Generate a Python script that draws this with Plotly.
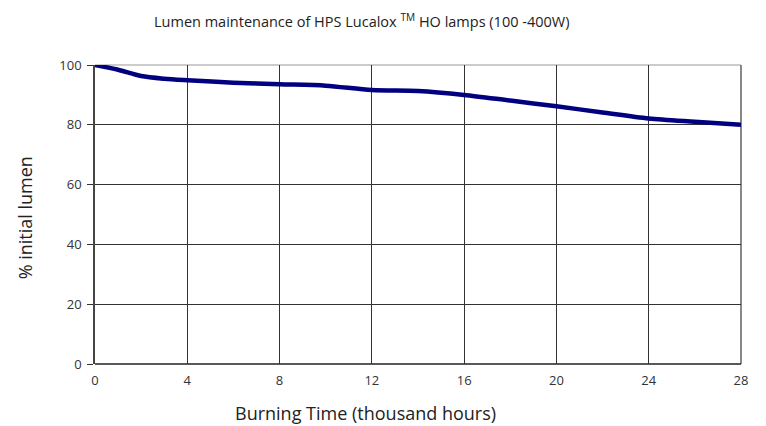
import plotly.graph_objects as go

hours = [0, 1, 2, 3, 4, 6, 8, 10, 12, 14, 16, 18, 20, 22, 24, 26, 28]
lumen = [100, 98.4, 96.3, 95.4, 94.9, 94.1, 93.6, 93.1, 91.6, 91.3, 90.0, 88.1, 86.2, 84.1, 82.1, 81.0, 80.0]
x_ticks = [0, 4, 8, 12, 16, 20, 24, 28]
y_ticks = [0, 20, 40, 60, 80, 100]

FONT = "Open Sans"

fig = go.Figure()
fig.add_trace(go.Scatter(
    x=hours, y=lumen, mode="lines",
    line=dict(color="#000080", width=4.5, shape="spline", smoothing=0.8),
    hoverinfo="skip", showlegend=False,
))

fig.update_layout(
    width=758, height=418,
    margin=dict(l=87, r=25, t=57, b=62),
    paper_bgcolor="white", plot_bgcolor="white",
    font=dict(family=FONT, color="#333", size=13),
    xaxis=dict(range=[0, 28], tickvals=x_ticks, showgrid=True, gridcolor="#333",
               gridwidth=1, zeroline=False, showline=False, ticks="",
               ticklabelstandoff=7,
               tickfont=dict(size=13, color="#333"), fixedrange=True),
    yaxis=dict(range=[0, 100], tickvals=y_ticks, showgrid=True, gridcolor="#333",
               gridwidth=1, zeroline=False, showline=True, linecolor="#444", linewidth=1.5,
               ticks="outside", ticklen=6, tickcolor="#333", ticklabelstandoff=3,
               tickfont=dict(size=13, color="#333"), fixedrange=True),
    shapes=[
        dict(type="line", xref="paper", yref="paper", x0=0, x1=1, y0=1, y1=1,
             line=dict(color="#bbbbbb", width=1.5), layer="below"),
        dict(type="line", xref="paper", yref="paper", x0=1, x1=1, y0=0, y1=1,
             line=dict(color="#888888", width=2), layer="below"),
        dict(type="line", xref="paper", yref="paper", x0=0, x1=1, y0=0, y1=0,
             line=dict(color="#222222", width=1.5), layer="below"),
    ],
    annotations=[
        dict(text="Lumen maintenance of HPS Lucalox <sup>TM</sup> HO lamps (100 -400W)",
             xref="paper", yref="paper", x=0.413, y=1.15, showarrow=False,
             xanchor="center", yanchor="middle", font=dict(size=14.5, color="#222")),
        dict(text="Burning Time (thousand hours)", xref="paper", yref="paper",
             x=0.418, y=-0.164, showarrow=False, xanchor="center", yanchor="middle",
             font=dict(size=18, color="#222")),
        dict(text="% initial lumen", xref="paper", yref="paper",
             x=-0.107, y=0.49, showarrow=False, textangle=-90,
             xanchor="center", yanchor="middle", font=dict(size=18, color="#222")),
    ],
)

fig.write_html("out.html")
